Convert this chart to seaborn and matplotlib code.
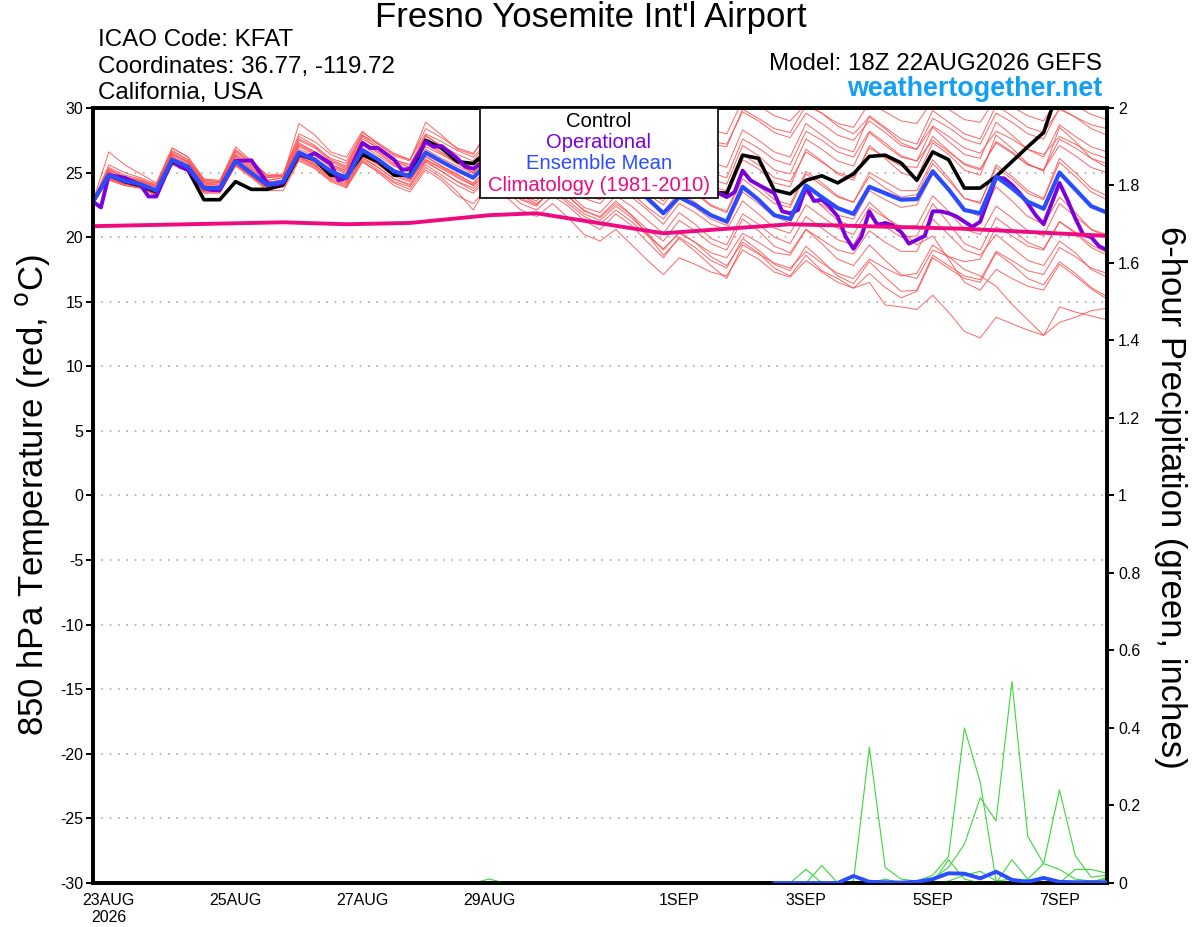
import matplotlib
matplotlib.use("Agg")
import matplotlib.pyplot as plt
from matplotlib.patches import Rectangle
import pandas as pd
import seaborn as sns

# forecast hours since 18Z 22AUG2026 (6-hourly ensemble output)
hours = list(range(0, 385, 6))

ens_mean = [22.75, 24.8, 24.35, 24.1, 23.6, 26.0, 25.45, 23.8, 23.8, 25.9, 24.95, 24.05, 24.3,
            26.55, 26.0, 25.1, 24.6, 26.75, 26.0, 25.1, 24.7, 26.55, 25.85, 25.2, 24.6,
            25.9, 25.2, 24.4, 24.1, 25.5, 24.8, 23.9, 23.6, 24.9, 24.1, 23.0, 21.85, 23.1, 22.5, 21.7, 21.2,
            23.9, 22.9, 21.7, 21.4, 24.0, 23.1, 22.25, 21.8, 23.9, 23.4, 22.9, 22.95, 25.1, 23.7, 22.1, 21.85,
            24.7, 23.8, 22.75, 22.2, 25.0, 23.7, 22.4, 21.9]

control = [22.75, 24.8, 24.3, 24.0, 23.5, 25.85, 25.2, 22.9, 22.9, 24.3, 23.7, 23.7, 24.05,
           26.4, 26.0, 24.8, 24.7, 26.4, 25.85, 24.8, 24.8, 27.5, 26.9, 25.85, 25.7,
           26.8, 26.2, 25.3, 25.0, 26.5, 25.8, 24.8, 24.5, 26.0, 25.1, 24.2, 23.8, 25.2, 24.3, 23.5, 23.4,
           26.35, 26.1, 23.65, 23.35, 24.4, 24.75, 24.2, 24.9, 26.25, 26.35, 25.75, 24.4, 26.6, 26.0, 23.8, 23.8,
           24.7, 25.85, 27.0, 28.1, 31.7, 32.5, 33.0, 33.0]

# operational run is 3-hourly
op_hours = [0, 3, 6, 12, 18, 21, 24, 30, 33, 36, 42, 45, 48, 54, 60, 66, 69, 72, 78, 81, 84, 90, 93, 96,
            102, 105, 108, 114, 117, 120, 126, 129, 132, 138, 141, 144, 147, 150, 156, 162, 168, 174, 180,
            186, 192, 198, 204, 210, 216, 222, 228, 234, 237, 240, 243, 246, 249, 252, 258, 261, 264, 267,
            270, 273, 276, 279, 282, 285, 288, 291, 294, 297, 300, 303, 306, 309, 312, 315, 318, 321, 324,
            327, 330, 333, 336, 342, 345, 348, 351, 354, 357, 360, 363, 366, 369, 372, 375, 378, 381, 384]
op_temp = [22.75, 22.3, 24.8, 24.6, 24.05, 23.15, 23.15, 26.0, 25.45, 25.2, 23.8, 23.65, 23.65, 25.9, 25.95,
           24.2, 24.05, 24.2, 26.5, 26.2, 26.5, 25.7, 24.4, 24.6, 27.3, 26.9, 26.9, 26.0, 25.2, 25.3, 27.4,
           27.0, 27.05, 26.1, 25.45, 25.3, 25.7, 26.8, 26.0, 25.0, 24.8, 26.2, 25.4, 24.5, 24.3, 25.6, 24.8,
           23.9, 23.6, 25.0, 24.2, 23.4, 23.4, 23.1, 23.5, 25.15, 24.4, 24.05, 23.4, 22.0, 21.85, 22.1,
           23.9, 22.8, 22.9, 22.35, 21.6, 20.05, 19.1, 20.05, 22.0, 20.95, 21.1, 20.9, 20.4, 19.5, 19.8,
           20.1, 22.0, 22.0, 21.85, 21.6, 21.2, 20.8, 21.2, 24.6, 24.55, 24.05, 23.4, 22.6, 21.7, 21.0,
           22.6, 24.2, 22.9, 21.45, 20.2, 20.0, 19.3, 19.0]

clim_hours = [0, 72, 96, 120, 150, 168, 216, 264, 330, 384]
clim_temp = [20.85, 21.15, 21.0, 21.1, 21.7, 21.85, 20.3, 21.0, 20.65, 20.1]

members = [
    [22.8, 25.2, 24.6, 24.3, 23.8, 26.3, 25.7, 24.1, 24.0, 26.2, 25.3, 24.4, 24.6,
     27.2, 26.6, 25.8, 25.3, 27.6, 26.9, 26.0, 25.6, 27.8, 27.1, 26.4, 25.9,
     27.6, 27.0, 26.3, 26.1, 27.9, 27.3, 26.6, 26.4, 28.2, 27.6, 26.9, 26.6, 28.4, 27.8, 27.2, 27.0,
     29.9, 29.2, 28.4, 28.1, 30.2, 29.6, 28.8, 28.5, 30.4, 29.7, 29.0, 28.8, 30.6, 29.9, 29.1, 28.9,
     30.8, 30.1, 29.4, 29.0, 30.9, 30.2, 29.5, 29.1],
    [22.7, 24.5, 24.1, 23.9, 23.3, 25.7, 25.2, 23.5, 23.5, 25.6, 24.7, 23.8, 24.0,
     26.2, 25.6, 24.6, 24.1, 26.2, 25.4, 24.5, 24.0, 25.9, 25.1, 24.3, 23.6,
     24.8, 23.9, 23.0, 22.5, 23.7, 22.8, 21.8, 21.3, 22.4, 21.5, 20.3, 19.0, 20.4, 19.6, 18.5, 17.8,
     19.6, 18.8, 17.6, 17.0, 18.6, 17.4, 16.8, 16.05, 16.5, 14.75, 14.6, 14.4, 15.5, 14.2, 12.7, 12.2,
     13.8, 13.3, 12.8, 12.4, 14.6, 14.2, 13.9, 13.6],
    [22.8, 24.6, 24.2, 23.9, 23.4, 25.8, 25.3, 23.6, 23.6, 25.7, 24.8, 23.9, 24.1,
     26.3, 25.8, 24.8, 24.3, 26.4, 25.6, 24.7, 24.3, 26.0, 25.3, 24.6, 24.0,
     25.2, 24.4, 23.5, 23.0, 24.1, 23.2, 22.0, 21.6, 22.8, 21.7, 20.2, 18.6, 19.9, 18.9, 17.8, 16.8,
     19.4, 18.7, 18.0, 17.6, 18.9, 18.0, 17.2, 16.8, 18.3, 17.6, 17.0, 17.2, 19.4, 18.5, 17.5, 17.0,
     16.2, 14.8, 13.6, 12.4, 13.4, 13.8, 14.3, 14.5],
    [22.8, 26.6, 25.6, 24.9, 24.2, 26.9, 26.2, 24.5, 24.3, 27.0, 25.9, 24.8, 24.7,
     28.8, 27.9, 26.6, 26.2, 28.2, 27.2, 26.3, 25.9, 28.9, 27.9, 26.8, 26.4,
     28.5, 27.6, 26.7, 26.3, 28.0, 27.2, 26.1, 25.8, 27.6, 26.8, 25.9, 25.4, 27.4, 26.7, 25.8, 25.4,
     28.3, 27.5, 26.6, 26.2, 28.8, 27.9, 27.0, 26.6, 29.4, 28.5, 27.6, 27.2, 29.8, 28.9, 28.0, 27.6,
     30.2, 29.4, 28.5, 28.1, 29.9, 29.3, 28.7, 28.4],
    [22.7, 24.9, 24.5, 24.2, 23.7, 26.2, 25.6, 24.0, 23.9, 26.0, 25.1, 24.2, 24.4,
     26.8, 26.3, 25.5, 25.0, 27.1, 26.3, 25.5, 25.1, 26.8, 26.1, 25.5, 24.9,
     26.3, 25.8, 25.0, 24.8, 26.4, 25.8, 24.9, 24.6, 26.1, 25.4, 24.4, 23.8, 25.6, 24.8, 23.9, 23.6,
     26.4, 25.6, 24.6, 24.3, 26.6, 25.8, 25.0, 24.6, 26.9, 26.2, 25.5, 25.4, 27.8, 26.7, 25.6, 25.2,
     27.4, 26.6, 25.6, 25.2, 27.6, 26.9, 26.1, 25.7],
    [22.7, 24.7, 24.2, 24.0, 23.5, 25.8, 25.3, 23.6, 23.7, 25.7, 24.8, 23.9, 24.2,
     26.4, 25.8, 24.9, 24.4, 26.5, 25.7, 24.8, 24.4, 26.2, 25.5, 24.8, 24.2,
     25.4, 24.7, 23.8, 23.4, 24.9, 24.0, 23.0, 22.6, 23.9, 23.1, 22.1, 21.0, 22.6, 21.9, 21.0, 20.6,
     22.8, 21.8, 20.7, 20.3, 22.5, 21.6, 20.7, 20.2, 22.3, 21.5, 20.8, 20.9, 23.2, 22.0, 20.6, 20.2,
     22.4, 21.5, 20.5, 20.1, 22.6, 21.6, 20.6, 20.2],
    [22.8, 25.1, 24.4, 24.1, 23.6, 26.4, 25.8, 24.2, 24.0, 26.3, 25.2, 24.3, 24.4,
     27.0, 26.4, 25.4, 24.9, 27.3, 26.5, 25.6, 25.0, 27.2, 26.5, 25.8, 25.2,
     26.6, 25.9, 25.0, 24.6, 26.0, 25.3, 24.4, 24.0, 25.4, 24.7, 23.7, 22.8, 24.4, 23.5, 22.5, 22.0,
     24.9, 24.0, 22.9, 22.5, 25.1, 24.2, 23.2, 22.7, 25.0, 24.3, 23.6, 23.6, 26.0, 24.6, 23.0, 22.6,
     25.6, 24.7, 23.6, 23.0, 26.1, 25.0, 23.8, 23.2],
    [22.7, 24.6, 24.3, 24.0, 23.4, 25.9, 25.4, 23.7, 23.6, 25.8, 24.9, 24.0, 24.2,
     26.2, 25.7, 24.9, 24.5, 26.3, 25.6, 24.9, 24.5, 26.0, 25.4, 24.7, 24.0,
     25.0, 24.2, 23.2, 22.6, 23.6, 22.6, 21.6, 21.0, 22.1, 21.2, 20.1, 19.1, 20.3, 19.6, 18.8, 18.4,
     20.3, 19.6, 18.8, 18.6, 20.6, 19.8, 19.0, 18.7, 20.5, 19.6, 18.9, 18.9, 21.4, 20.2, 19.0, 18.6,
     20.2, 19.2, 18.2, 17.8, 19.7, 18.8, 17.5, 16.9],
    [22.8, 25.3, 24.6, 24.3, 23.9, 26.5, 25.8, 24.2, 24.1, 26.4, 25.4, 24.4, 24.6,
     27.5, 26.9, 25.9, 25.4, 27.8, 26.8, 25.9, 25.4, 27.5, 26.8, 26.0, 25.3,
     26.9, 26.3, 25.6, 25.3, 27.0, 26.4, 25.6, 25.3, 27.0, 26.3, 25.3, 24.6, 26.3, 25.5, 24.5, 24.1,
     27.1, 26.3, 25.2, 24.9, 27.6, 26.8, 25.9, 25.5, 28.1, 27.1, 26.2, 25.9, 28.5, 27.4, 26.4, 26.1,
     28.9, 27.9, 26.8, 26.2, 28.7, 27.8, 27.0, 26.6],
    [22.7, 24.4, 24.0, 23.8, 23.2, 25.6, 25.1, 23.4, 23.4, 25.5, 24.6, 23.6, 23.6,
     25.9, 25.3, 24.3, 23.8, 25.8, 25.1, 24.2, 23.7, 25.4, 24.6, 23.5, 22.1,
     24.3, 23.6, 22.6, 22.1, 23.2, 22.4, 21.3, 20.6, 21.8, 20.9, 19.6, 18.4, 20.0, 19.2, 18.2, 17.6,
     19.9, 19.0, 17.9, 17.4, 19.3, 18.2, 17.0, 16.4, 18.1, 16.9, 15.8, 15.9, 18.6, 17.8, 17.0, 16.7,
     18.9, 18.2, 17.4, 17.1, 19.2, 18.5, 17.6, 17.2],
    [22.8, 25.0, 24.5, 24.2, 23.7, 26.1, 25.5, 24.0, 23.9, 26.1, 25.1, 24.2, 24.4,
     27.1, 26.5, 25.6, 25.2, 27.4, 26.7, 25.9, 25.4, 27.4, 26.6, 25.7, 25.0,
     27.3, 26.9, 26.4, 26.3, 28.3, 27.9, 27.3, 27.1, 29.0, 28.5, 27.8, 27.4, 29.5, 29.0, 28.3, 28.0,
     30.6, 30.2, 29.4, 29.0, 30.3, 29.6, 28.6, 28.0, 29.3, 28.4, 27.3, 26.8, 28.6, 27.8, 26.9, 26.5,
     28.2, 27.6, 26.8, 26.4, 27.8, 27.2, 26.5, 26.1],
    [22.7, 24.7, 24.4, 24.1, 23.5, 26.0, 25.5, 23.9, 23.8, 25.9, 24.9, 24.0, 24.1,
     26.6, 26.0, 25.0, 24.6, 26.6, 25.8, 25.0, 24.5, 26.3, 25.5, 24.9, 24.1,
     25.6, 24.9, 24.0, 23.7, 25.1, 24.3, 23.3, 22.9, 24.3, 23.4, 22.3, 21.4, 23.0, 22.3, 21.4, 20.9,
     23.5, 22.6, 21.6, 21.1, 23.4, 22.5, 21.7, 21.4, 23.6, 22.9, 22.3, 22.5, 24.9, 23.6, 22.1, 21.6,
     23.9, 22.8, 21.6, 21.0, 23.1, 21.9, 20.6, 20.0],
    [22.8, 24.5, 24.1, 23.8, 23.3, 25.7, 25.3, 23.6, 23.5, 25.7, 24.8, 23.8, 23.9,
     26.0, 25.4, 24.4, 23.9, 25.9, 25.0, 24.0, 23.5, 25.2, 24.4, 23.2, 22.6,
     24.0, 23.2, 22.1, 21.6, 22.6, 21.5, 20.2, 19.7, 20.6, 19.4, 18.2, 17.1, 18.4, 17.9, 17.3, 17.0,
     19.0, 18.3, 17.3, 16.9, 18.2, 17.3, 16.5, 16.05, 17.2, 16.1, 15.3, 15.8, 18.4, 17.6, 16.8, 16.5,
     18.8, 17.9, 16.8, 16.3, 18.1, 17.2, 16.1, 15.4],
    [22.8, 25.0, 24.6, 24.4, 23.9, 26.4, 25.9, 24.3, 24.2, 26.4, 25.5, 24.6, 24.8,
     27.6, 27.0, 26.1, 25.7, 27.9, 27.2, 26.4, 26.0, 28.0, 27.4, 26.7, 26.2,
     27.4, 26.7, 25.9, 25.6, 27.2, 26.5, 25.6, 25.2, 26.8, 26.1, 25.2, 24.7, 26.6, 25.9, 25.0, 24.6,
     27.6, 26.9, 26.0, 25.6, 28.2, 27.5, 26.6, 26.2, 28.2, 27.3, 26.3, 25.9, 27.5, 26.6, 25.7, 25.3,
     27.3, 26.5, 25.6, 25.2, 27.1, 26.3, 25.4, 25.0],
    [22.7, 24.8, 24.3, 24.0, 23.5, 26.0, 25.4, 23.7, 23.7, 25.8, 24.9, 24.0, 24.2,
     26.5, 25.9, 25.0, 24.5, 26.7, 25.9, 25.0, 24.6, 26.5, 25.8, 25.1, 24.5,
     25.9, 25.2, 24.4, 24.1, 25.6, 24.9, 24.0, 23.7, 25.0, 24.2, 23.1, 22.0, 23.5, 22.7, 21.7, 21.2,
     23.7, 22.9, 21.8, 21.4, 23.5, 22.4, 21.3, 20.8, 22.7, 21.6, 20.5, 19.4, 20.1, 18.3, 16.5, 15.9,
     17.5, 16.8, 16.2, 15.9, 17.9, 17.0, 16.0, 15.2],
    [22.8, 25.2, 24.7, 24.4, 24.0, 26.6, 26.0, 24.3, 24.2, 26.6, 25.6, 24.6, 24.7,
     27.3, 26.6, 25.6, 25.1, 27.4, 26.6, 25.7, 25.2, 27.0, 26.4, 25.7, 25.0,
     26.4, 25.7, 24.8, 24.4, 25.9, 25.1, 24.1, 23.6, 25.3, 24.6, 23.7, 23.1, 24.9, 24.3, 23.4, 23.1,
     26.0, 25.3, 24.2, 23.9, 26.8, 25.9, 24.9, 24.4, 27.1, 26.1, 25.0, 24.6, 27.3, 26.4, 25.2, 24.8,
     27.9, 26.9, 25.7, 25.1, 28.5, 27.4, 26.1, 25.4],
    [22.7, 24.6, 24.2, 23.9, 23.4, 25.9, 25.3, 23.7, 23.6, 25.8, 24.8, 23.9, 24.0,
     26.2, 25.6, 24.7, 24.2, 26.1, 25.4, 24.5, 24.1, 25.8, 25.1, 24.3, 23.8,
     24.9, 24.1, 23.2, 22.8, 24.2, 23.4, 22.3, 21.9, 23.2, 22.4, 21.3, 20.3, 21.9, 21.0, 19.9, 19.4,
     21.8, 21.0, 20.0, 19.5, 21.6, 20.7, 19.8, 19.4, 21.6, 20.8, 20.0, 20.1, 22.6, 21.1, 19.5, 19.0,
     21.5, 20.6, 19.6, 19.1, 21.2, 20.3, 19.2, 18.6],
    [22.8, 25.4, 24.8, 24.5, 24.0, 26.7, 26.0, 24.4, 24.3, 26.7, 25.7, 24.7, 24.8,
     27.8, 27.1, 26.0, 25.5, 27.9, 27.0, 26.0, 25.6, 27.9, 27.0, 26.0, 25.4,
     26.8, 26.0, 25.0, 24.6, 26.1, 25.2, 24.2, 23.8, 25.3, 24.4, 23.3, 22.5, 24.2, 23.4, 22.4, 21.9,
     24.5, 23.6, 22.6, 22.3, 24.9, 24.0, 23.1, 22.7, 24.7, 23.8, 23.1, 23.3, 25.7, 24.4, 23.0, 22.7,
     25.4, 24.5, 23.4, 22.9, 25.8, 24.7, 23.5, 22.9],
    [22.8, 25.6, 25.0, 24.6, 24.1, 26.9, 26.2, 24.5, 24.4, 26.8, 25.8, 24.8, 24.9,
     28.0, 27.4, 26.4, 25.9, 28.1, 27.3, 26.5, 26.0, 28.4, 27.7, 26.9, 26.5,
     28.0, 27.4, 26.7, 26.5, 28.3, 27.7, 27.0, 26.8, 28.6, 28.0, 27.2, 26.9, 28.8, 28.1, 27.4, 27.2,
     29.7, 29.0, 28.1, 27.7, 29.6, 28.8, 27.9, 27.5, 29.0, 28.1, 27.1, 26.8, 29.2, 28.5, 27.6, 27.2,
     29.6, 28.9, 28.0, 27.6, 30.0, 29.3, 28.4, 27.9],
    [22.7, 24.5, 24.0, 23.8, 23.3, 25.6, 25.2, 23.5, 23.5, 25.6, 24.7, 23.7, 23.9,
     26.1, 25.5, 24.5, 24.0, 26.0, 25.2, 24.3, 23.9, 25.6, 24.8, 24.0, 23.4,
     24.6, 23.8, 22.9, 22.4, 23.9, 23.1, 22.1, 21.5, 22.6, 21.7, 20.6, 19.7, 21.3, 20.5, 19.5, 19.0,
     21.4, 20.5, 19.3, 18.8, 20.6, 19.5, 18.3, 17.8, 19.4, 18.2, 17.1, 16.8, 19.0, 18.5, 18.1, 18.3,
     20.8, 20.1, 19.3, 19.0, 21.2, 20.4, 19.4, 18.8],
]

# 6-hour precipitation (inches), members from 18Z 28AUG onward
precip_hours = list(range(144, 385, 6))
precip_members = [
    [0, 0.01, 0, 0, 0, 0, 0, 0, 0, 0, 0, 0, 0, 0, 0, 0, 0, 0, 0, 0, 0, 0, 0, 0,
     0.005, 0.35, 0.04, 0.01, 0.005, 0, 0, 0, 0, 0, 0, 0, 0, 0, 0, 0, 0],
    [0, 0, 0, 0, 0, 0, 0, 0, 0, 0, 0, 0, 0, 0, 0, 0, 0, 0, 0, 0, 0, 0, 0, 0,
     0, 0, 0, 0, 0.005, 0.02, 0.068, 0.40, 0.26, 0.005, 0.01, 0, 0, 0, 0, 0, 0],
    [0, 0, 0, 0, 0, 0, 0, 0, 0, 0, 0, 0, 0, 0, 0, 0, 0, 0, 0, 0, 0, 0, 0, 0,
     0, 0, 0, 0, 0, 0.01, 0.04, 0.1, 0.22, 0.16, 0.52, 0.12, 0.05, 0.035, 0.01, 0.005, 0.01],
    [0, 0, 0, 0, 0, 0, 0, 0, 0, 0, 0, 0, 0, 0, 0, 0, 0, 0, 0, 0, 0, 0, 0, 0,
     0, 0, 0, 0, 0, 0, 0, 0, 0, 0, 0, 0.01, 0.05, 0.24, 0.07, 0.015, 0.02],
    [0, 0, 0, 0, 0, 0, 0, 0, 0, 0, 0, 0, 0, 0, 0, 0, 0, 0, 0, 0, 0, 0.035, 0, 0,
     0, 0, 0, 0, 0, 0, 0.06, 0.01, 0, 0, 0.06, 0.01, 0, 0, 0.035, 0.035, 0.025],
    [0, 0, 0, 0, 0, 0, 0, 0, 0, 0, 0, 0, 0, 0, 0, 0, 0, 0, 0, 0, 0, 0, 0.045, 0,
     0, 0, 0.01, 0, 0, 0, 0.005, 0.02, 0.03, 0.005, 0, 0, 0.01, 0.005, 0, 0, 0.015],
]
# ensemble-mean precipitation from 12Z 3SEP onward
mean_precip_hours = list(range(258, 385, 6))
precip_mean = [0, 0, 0, 0, 0, 0.018, 0.003, 0.002, 0.001, 0.003, 0.01, 0.025, 0.024, 0.012,
               0.029, 0.008, 0.003, 0.013, 0.003, 0.002, 0.002, 0.002]

tick_hours = [6, 54, 102, 150, 222, 270, 318, 366]
tick_labels = ["23AUG\n2026", "25AUG", "27AUG", "29AUG", "1SEP", "3SEP", "5SEP", "7SEP"]
temp_ticks = list(range(-30, 31, 5))
precip_ticks = [0, 0.2, 0.4, 0.6, 0.8, 1, 1.2, 1.4, 1.6, 1.8, 2]

sns.set_style("white")
plt.rcParams["font.family"] = ["Liberation Sans", "DejaVu Sans"]
plt.rcParams.update({"text.color": "black", "axes.labelcolor": "black",
                     "xtick.color": "black", "ytick.color": "black"})

RED = "#ff4a4a"
GREEN = "#3ad83a"
BLACK = "#000000"
PURPLE = "#7d00dc"
BLUE = "#2a4cff"
PINK = "#ee0a80"

fig = plt.figure(figsize=(12, 9.27), dpi=100)
ax = fig.add_axes([0.0775, 0.0475, 0.845, 0.836])

ens_df = pd.concat(
    [pd.DataFrame({"hour": hours, "temp": vals, "member": k}) for k, vals in enumerate(members)]
)
sns.lineplot(data=ens_df, x="hour", y="temp", units="member", estimator=None,
             color=RED, lw=0.7, alpha=0.85, legend=False, ax=ax, zorder=2)
sns.lineplot(x=hours, y=control, color=BLACK, lw=2.6, ax=ax, zorder=3)
sns.lineplot(x=op_hours, y=op_temp, color=PURPLE, lw=2.8, ax=ax, zorder=4)
sns.lineplot(x=hours, y=ens_mean, color=BLUE, lw=3.0, ax=ax, zorder=5)
sns.lineplot(x=clim_hours, y=clim_temp, color=PINK, lw=2.8, ax=ax, zorder=6)

ax.set_xlim(0, 384)
ax.set_ylim(-30, 30)
ax.set_yticks(temp_ticks)
ax.set_yticklabels([str(t) for t in temp_ticks])
ax.set_xticks(tick_hours)
ax.set_xticklabels(tick_labels, linespacing=1.2)
ax.set_xlabel("")
ax.set_ylabel("")
ax.yaxis.grid(True, color="#aaaaaa", ls=(0, (1, 4)), lw=1.2)
ax.xaxis.grid(False)
ax.tick_params(axis="both", direction="out", length=5, width=1.4, labelsize=11.5, pad=2,
               colors="black")

ax2 = ax.twinx()
prec_df = pd.concat(
    [pd.DataFrame({"hour": precip_hours, "precip": vals, "member": k})
     for k, vals in enumerate(precip_members)]
)
sns.lineplot(data=prec_df, x="hour", y="precip", units="member", estimator=None,
             color=GREEN, lw=0.8, legend=False, ax=ax2, zorder=2)
sns.lineplot(x=mean_precip_hours, y=precip_mean, color=BLUE, lw=2.8, ax=ax2, zorder=3)
ax2.set_ylim(0, 2)
ax2.set_xlim(0, 384)
ax2.set_yticks(precip_ticks)
ax2.set_yticklabels([f"{p:g}" for p in precip_ticks])
ax2.set_ylabel("")
ax2.grid(False)
ax2.tick_params(axis="y", direction="out", length=5, width=1.4, labelsize=11.5, pad=3,
                colors="black")

for a in (ax, ax2):
    for side in ("left", "right", "top", "bottom"):
        a.spines[side].set_visible(True)
        a.spines[side].set_color("black")
        a.spines[side].set_linewidth(2.6)

# legend box
ax2.add_patch(Rectangle((0.3817, 0.8839), 0.2347, 0.1161, transform=ax2.transAxes,
                        facecolor="white", edgecolor="black", lw=1.2, zorder=10, clip_on=False))
legend_items = [("Control", BLACK), ("Operational", PURPLE),
                ("Ensemble Mean", BLUE), ("Climatology (1981-2010)", PINK)]
for (label, col), yy in zip(legend_items, [0.9832, 0.956, 0.929, 0.9006]):
    ax2.text(0.499, yy, label, color=col, fontsize=14.6, ha="center", va="center",
             transform=ax2.transAxes, zorder=11)

# header text
fig.text(0.492, 1 - 18 / 927, "Fresno Yosemite Int'l Airport", fontsize=25,
         ha="center", va="center")
fig.text(98 / 1200, 1 - 40 / 927, "ICAO Code: KFAT", fontsize=17.4, ha="left", va="center")
fig.text(98 / 1200, 1 - 67 / 927, "Coordinates: 36.77, -119.72", fontsize=17.4,
         ha="left", va="center")
fig.text(98 / 1200, 1 - 93 / 927, "California, USA", fontsize=17.4, ha="left", va="center")
fig.text(1102 / 1200, 1 - 64 / 927, "Model: 18Z 22AUG2026 GEFS", fontsize=17.4,
         ha="right", va="center")
fig.text(1102 / 1200, 1 - 89 / 927, "weathertogether.net", fontsize=19.4, fontweight="bold",
         color="#12a0f5", ha="right", va="center")

fig.text(33 / 1200, 1 - 495 / 927, "850 hPa Temperature (red, $^\\mathrm{o}$C)", fontsize=25,
         rotation=90, ha="center", va="center")
fig.text(1170 / 1200, 1 - 497 / 927, "6-hour Precipitation (green, inches)", fontsize=25,
         rotation=270, ha="center", va="center")

fig.savefig("out.png", dpi=100)
